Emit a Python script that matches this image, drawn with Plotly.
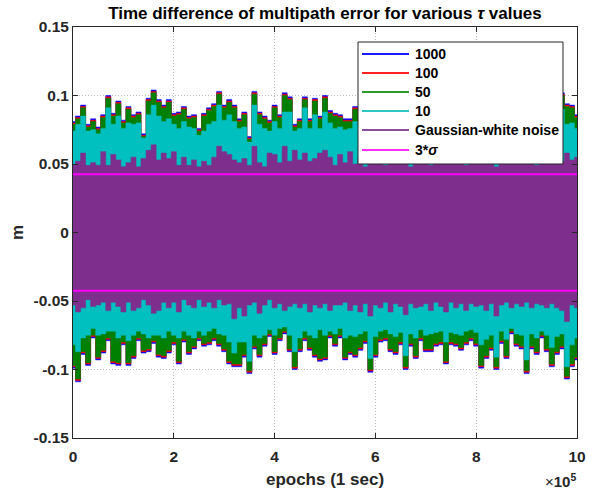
import numpy as np
import plotly.graph_objects as go

# epochs (1 sec) sampled along the record
epochs = np.linspace(0, 1e6, 101)

# ---- upper envelope (m) of each tau series ----
up_1000 = [0.081, 0.085, 0.093, 0.079, 0.083, 0.077, 0.086, 0.100, 0.087, 0.096,
           0.082, 0.092, 0.086, 0.088, 0.072, 0.098, 0.104, 0.097, 0.093, 0.097,
           0.087, 0.088, 0.092, 0.085, 0.086, 0.076, 0.087, 0.091, 0.094, 0.103,
           0.093, 0.097, 0.093, 0.083, 0.088, 0.070, 0.103, 0.088, 0.085, 0.082,
           0.093, 0.086, 0.102, 0.099, 0.079, 0.083, 0.099, 0.083, 0.098, 0.085,
           0.100, 0.089, 0.087, 0.086, 0.083, 0.083, 0.092, 0.088, 0.082, 0.095,
           0.079, 0.091, 0.086, 0.099, 0.084, 0.090, 0.077, 0.093, 0.087, 0.101,
           0.083, 0.089, 0.094, 0.080, 0.092, 0.085, 0.097, 0.082, 0.088, 0.091,
           0.078, 0.096, 0.086, 0.090, 0.083, 0.100, 0.087, 0.081, 0.094, 0.089,
           0.084, 0.098, 0.080, 0.092, 0.086, 0.095, 0.088, 0.102, 0.094, 0.093,
           0.086]
up_100 = [0.080, 0.084, 0.092, 0.078, 0.082, 0.076, 0.085, 0.099, 0.086, 0.095,
          0.081, 0.091, 0.085, 0.087, 0.071, 0.097, 0.103, 0.096, 0.092, 0.096,
          0.086, 0.087, 0.091, 0.084, 0.085, 0.075, 0.086, 0.090, 0.093, 0.102,
          0.092, 0.096, 0.092, 0.082, 0.087, 0.069, 0.102, 0.087, 0.084, 0.081,
          0.092, 0.085, 0.101, 0.098, 0.078, 0.082, 0.098, 0.082, 0.097, 0.084,
          0.099, 0.088, 0.086, 0.085, 0.082, 0.082, 0.091, 0.087, 0.081, 0.094,
          0.078, 0.090, 0.085, 0.098, 0.083, 0.089, 0.076, 0.092, 0.086, 0.100,
          0.082, 0.088, 0.093, 0.079, 0.091, 0.084, 0.096, 0.081, 0.087, 0.090,
          0.077, 0.095, 0.085, 0.089, 0.082, 0.099, 0.086, 0.080, 0.093, 0.088,
          0.083, 0.097, 0.079, 0.091, 0.085, 0.094, 0.087, 0.101, 0.093, 0.092,
          0.085]
up_50 = [0.079, 0.083, 0.091, 0.077, 0.081, 0.075, 0.084, 0.098, 0.085, 0.094,
         0.080, 0.090, 0.084, 0.086, 0.070, 0.096, 0.102, 0.095, 0.091, 0.095,
         0.085, 0.086, 0.090, 0.083, 0.084, 0.074, 0.085, 0.089, 0.092, 0.101,
         0.091, 0.095, 0.091, 0.081, 0.086, 0.068, 0.101, 0.086, 0.083, 0.080,
         0.091, 0.084, 0.100, 0.097, 0.077, 0.081, 0.097, 0.081, 0.096, 0.083,
         0.098, 0.087, 0.085, 0.084, 0.081, 0.081, 0.090, 0.086, 0.080, 0.093,
         0.077, 0.089, 0.084, 0.097, 0.082, 0.088, 0.075, 0.091, 0.085, 0.099,
         0.081, 0.087, 0.092, 0.078, 0.090, 0.083, 0.095, 0.080, 0.086, 0.089,
         0.076, 0.094, 0.084, 0.088, 0.081, 0.098, 0.085, 0.079, 0.092, 0.087,
         0.082, 0.096, 0.078, 0.090, 0.084, 0.093, 0.086, 0.100, 0.092, 0.091,
         0.084]
up_10 = [0.074, 0.079, 0.085, 0.074, 0.075, 0.072, 0.076, 0.091, 0.079, 0.085,
         0.076, 0.080, 0.079, 0.080, 0.069, 0.086, 0.093, 0.085, 0.081, 0.083,
         0.079, 0.076, 0.081, 0.077, 0.076, 0.071, 0.074, 0.079, 0.081, 0.093,
         0.082, 0.086, 0.081, 0.076, 0.077, 0.066, 0.093, 0.079, 0.076, 0.074,
         0.081, 0.076, 0.088, 0.088, 0.074, 0.076, 0.091, 0.076, 0.086, 0.076,
         0.088, 0.080, 0.076, 0.077, 0.075, 0.076, 0.081, 0.078, 0.074, 0.083,
         0.072, 0.080, 0.077, 0.088, 0.075, 0.079, 0.071, 0.082, 0.078, 0.089,
         0.075, 0.079, 0.083, 0.073, 0.081, 0.076, 0.086, 0.074, 0.078, 0.080,
         0.072, 0.085, 0.077, 0.079, 0.075, 0.088, 0.078, 0.074, 0.083, 0.079,
         0.076, 0.087, 0.073, 0.081, 0.077, 0.084, 0.078, 0.090, 0.079, 0.080,
         0.076]

# ---- lower envelope (m) of each tau series ----
lo_1000 = [-0.099, -0.109, -0.089, -0.097, -0.077, -0.093, -0.088, -0.079, -0.096, -0.097,
           -0.082, -0.097, -0.092, -0.079, -0.088, -0.087, -0.081, -0.091, -0.092, -0.088,
           -0.082, -0.096, -0.080, -0.089, -0.085, -0.079, -0.083, -0.082, -0.079, -0.083,
           -0.087, -0.096, -0.098, -0.098, -0.091, -0.103, -0.085, -0.091, -0.083, -0.076,
           -0.089, -0.079, -0.074, -0.087, -0.100, -0.087, -0.079, -0.086, -0.091, -0.094,
           -0.093, -0.077, -0.083, -0.077, -0.093, -0.089, -0.091, -0.086, -0.081, -0.102,
           -0.091, -0.080, -0.079, -0.087, -0.089, -0.082, -0.100, -0.083, -0.092, -0.079,
           -0.087, -0.087, -0.083, -0.082, -0.096, -0.082, -0.083, -0.086, -0.082, -0.079,
           -0.083, -0.099, -0.092, -0.086, -0.100, -0.081, -0.092, -0.074, -0.083, -0.085,
           -0.103, -0.085, -0.089, -0.077, -0.087, -0.098, -0.089, -0.085, -0.107, -0.098,
           -0.093]
lo_100 = [-0.098, -0.108, -0.088, -0.096, -0.076, -0.092, -0.087, -0.078, -0.095, -0.096,
          -0.081, -0.096, -0.091, -0.078, -0.087, -0.086, -0.080, -0.090, -0.091, -0.087,
          -0.081, -0.095, -0.079, -0.088, -0.084, -0.078, -0.082, -0.081, -0.078, -0.082,
          -0.086, -0.095, -0.097, -0.097, -0.090, -0.102, -0.084, -0.090, -0.082, -0.075,
          -0.088, -0.078, -0.073, -0.086, -0.099, -0.086, -0.078, -0.085, -0.090, -0.093,
          -0.092, -0.076, -0.082, -0.076, -0.092, -0.088, -0.090, -0.085, -0.080, -0.101,
          -0.090, -0.079, -0.078, -0.086, -0.088, -0.081, -0.099, -0.082, -0.091, -0.078,
          -0.086, -0.086, -0.082, -0.081, -0.095, -0.081, -0.082, -0.085, -0.081, -0.078,
          -0.082, -0.098, -0.091, -0.085, -0.099, -0.080, -0.091, -0.073, -0.082, -0.084,
          -0.102, -0.084, -0.088, -0.076, -0.086, -0.097, -0.088, -0.084, -0.106, -0.097,
          -0.092]
lo_50 = [-0.097, -0.107, -0.087, -0.095, -0.075, -0.091, -0.086, -0.077, -0.094, -0.095,
         -0.080, -0.095, -0.090, -0.077, -0.086, -0.085, -0.079, -0.089, -0.090, -0.086,
         -0.080, -0.094, -0.078, -0.087, -0.083, -0.077, -0.081, -0.080, -0.077, -0.081,
         -0.085, -0.094, -0.096, -0.096, -0.089, -0.101, -0.083, -0.089, -0.081, -0.074,
         -0.087, -0.077, -0.072, -0.085, -0.098, -0.085, -0.077, -0.084, -0.089, -0.092,
         -0.091, -0.075, -0.081, -0.075, -0.091, -0.087, -0.089, -0.084, -0.079, -0.100,
         -0.089, -0.078, -0.077, -0.085, -0.087, -0.080, -0.098, -0.081, -0.090, -0.077,
         -0.085, -0.085, -0.081, -0.080, -0.094, -0.080, -0.081, -0.084, -0.080, -0.077,
         -0.081, -0.097, -0.090, -0.084, -0.098, -0.079, -0.090, -0.072, -0.081, -0.083,
         -0.101, -0.083, -0.087, -0.075, -0.085, -0.096, -0.087, -0.083, -0.105, -0.096,
         -0.091]
lo_10 = [-0.082, -0.087, -0.077, -0.075, -0.070, -0.075, -0.074, -0.072, -0.072, -0.077,
         -0.075, -0.079, -0.075, -0.072, -0.074, -0.077, -0.075, -0.075, -0.077, -0.072,
         -0.075, -0.077, -0.072, -0.075, -0.077, -0.072, -0.075, -0.072, -0.070, -0.074,
         -0.075, -0.080, -0.088, -0.080, -0.080, -0.094, -0.075, -0.077, -0.075, -0.071,
         -0.075, -0.070, -0.069, -0.075, -0.087, -0.077, -0.072, -0.075, -0.077, -0.071,
         -0.075, -0.072, -0.074, -0.070, -0.077, -0.075, -0.076, -0.074, -0.072, -0.092,
         -0.076, -0.072, -0.071, -0.074, -0.076, -0.073, -0.090, -0.074, -0.077, -0.071,
         -0.075, -0.074, -0.073, -0.072, -0.080, -0.073, -0.074, -0.075, -0.072, -0.071,
         -0.073, -0.082, -0.078, -0.075, -0.091, -0.072, -0.078, -0.070, -0.074, -0.075,
         -0.093, -0.074, -0.077, -0.072, -0.075, -0.084, -0.076, -0.074, -0.098, -0.082,
         -0.077]

# ---- Gaussian white noise envelope (m) ----
noise_up = [0.049, 0.052, 0.058, 0.049, 0.051, 0.049, 0.059, 0.049, 0.057, 0.053,
            0.048, 0.051, 0.055, 0.048, 0.054, 0.060, 0.064, 0.053, 0.058, 0.054,
            0.059, 0.049, 0.055, 0.049, 0.053, 0.048, 0.052, 0.049, 0.055, 0.063,
            0.059, 0.057, 0.053, 0.051, 0.054, 0.049, 0.063, 0.051, 0.048, 0.058,
            0.057, 0.051, 0.063, 0.052, 0.060, 0.053, 0.058, 0.052, 0.054, 0.058,
            0.060, 0.055, 0.049, 0.057, 0.051, 0.059, 0.050, 0.054, 0.048, 0.056,
            0.052, 0.060, 0.049, 0.053, 0.057, 0.050, 0.055, 0.048, 0.058, 0.052,
            0.054, 0.049, 0.056, 0.051, 0.059, 0.050, 0.053, 0.057, 0.049, 0.055,
            0.052, 0.061, 0.050, 0.054, 0.048, 0.056, 0.053, 0.058, 0.050, 0.055,
            0.052, 0.057, 0.049, 0.054, 0.060, 0.051, 0.056, 0.052, 0.058, 0.053,
            0.055]
noise_lo = [-0.053, -0.058, -0.055, -0.049, -0.054, -0.053, -0.051, -0.057, -0.051, -0.054,
            -0.058, -0.051, -0.057, -0.055, -0.049, -0.053, -0.059, -0.057, -0.051, -0.055,
            -0.051, -0.058, -0.049, -0.053, -0.055, -0.049, -0.054, -0.051, -0.055, -0.049,
            -0.053, -0.052, -0.063, -0.055, -0.061, -0.053, -0.051, -0.059, -0.053, -0.049,
            -0.055, -0.052, -0.057, -0.054, -0.052, -0.055, -0.052, -0.058, -0.053, -0.055,
            -0.052, -0.057, -0.053, -0.053, -0.051, -0.057, -0.053, -0.058, -0.052, -0.061,
            -0.053, -0.055, -0.051, -0.058, -0.052, -0.054, -0.060, -0.052, -0.055, -0.054,
            -0.052, -0.057, -0.051, -0.054, -0.058, -0.051, -0.055, -0.052, -0.057, -0.052,
            -0.054, -0.053, -0.057, -0.052, -0.061, -0.053, -0.051, -0.055, -0.052, -0.054,
            -0.051, -0.055, -0.052, -0.053, -0.055, -0.052, -0.055, -0.057, -0.065, -0.053,
            -0.055]

sigma3 = 0.0425  # 3*sigma bound (m)

series_names = ["1000", "100", "50", "10", "Gaussian-white noise"]
series_colors = ["#0000FF", "#FF0000", "#008000", "#00BFBF", "#7E2F8E"]
uppers = [up_1000, up_100, up_50, up_10, noise_up]
lowers = [lo_1000, lo_100, lo_50, lo_10, noise_lo]

xtick_vals = [0, 2e5, 4e5, 6e5, 8e5, 1e6]
xtick_text = ["0", "2", "4", "6", "8", "10"]
ytick_vals = [-0.15, -0.1, -0.05, 0, 0.05, 0.1, 0.15]
ytick_text = ["-0.15", "-0.1", "-0.05", "0", "0.05", "0.1", "0.15"]

FONT = "Liberation Sans, Arial, Helvetica, sans-serif"
AX = "#262626"

fig = go.Figure()
xs = list(epochs)
for name, col, up, lo in zip(series_names, series_colors, uppers, lowers):
    # lower envelope, then upper envelope filled down to it (one solid band)
    fig.add_trace(go.Scatter(
        x=xs, y=list(lo), mode="lines", line_shape="hvh",
        line=dict(color=col, width=0.5),
        name=name, legendgroup=name, showlegend=False, hoverinfo="skip"))
    fig.add_trace(go.Scatter(
        x=xs, y=list(up), mode="lines", line_shape="hvh",
        fill="tonexty", fillcolor=col,
        line=dict(color=col, width=0.5),
        name=name, legendgroup=name, showlegend=False, hoverinfo="skip"))

fig.add_trace(go.Scatter(
    x=[epochs[0], epochs[-1], None, epochs[0], epochs[-1]],
    y=[sigma3, sigma3, None, -sigma3, -sigma3],
    mode="lines", line=dict(color="#FF00FF", width=2),
    name="3*σ", showlegend=False, hoverinfo="skip"))

# ---- legend drawn MATLAB-style (white box, line samples, bold labels) ----
legend_names = series_names + ["3*<i>σ</i>"]
legend_colors = ["#1a1aff", "#ff2020", "#2e9a2e", "#2ec8c8", "#8a4f9a", "#ff30ff"]
lx0, lx1, ly_top, ly_bot = 0.5655, 0.9722, 0.9635, 0.6667
row_y = [0.9343, 0.8881, 0.8418, 0.7956, 0.7494, 0.7007]
shapes = [dict(type="rect", xref="paper", yref="paper", x0=lx0, x1=lx1,
               y0=ly_bot, y1=ly_top, fillcolor="white",
               line=dict(color=AX, width=1), layer="above")]
annotations = []
for name, col, ry in zip(legend_names, legend_colors, row_y):
    shapes.append(dict(type="line", xref="paper", yref="paper",
                       x0=0.5734, x1=0.6667, y0=ry, y1=ry,
                       line=dict(color=col, width=2), layer="above"))
    annotations.append(dict(text=name, xref="paper", yref="paper",
                            x=0.6746, y=ry, xanchor="left", yanchor="middle",
                            showarrow=False,
                            font=dict(family=FONT, size=14, color="black",
                                      weight="bold")))

annotations.append(dict(text="×<b>10<sup>5</sup></b>", xref="paper", yref="paper",
                        x=1.002, y=-0.104, xanchor="right", yanchor="middle",
                        showarrow=False,
                        font=dict(family=FONT, size=15, color=AX)))

axis_common = dict(
    showline=True, linecolor=AX, linewidth=1, mirror="ticks",
    ticks="inside", ticklen=5, tickcolor=AX, tickwidth=1,
    showgrid=True, gridcolor="#BDBDBD", griddash="1px,2px", gridwidth=1,
    zeroline=False, automargin=False,
    tickfont=dict(family=FONT, size=15.5, color=AX, weight="bold"),
)

fig.update_layout(
    width=593, height=494,
    margin=dict(l=73, r=16, t=27, b=56),
    paper_bgcolor="white", plot_bgcolor="white",
    title=dict(text="Time difference of multipath error for various <i>τ</i> values",
               x=0.548, xanchor="center", y=0.9737, yanchor="middle",
               font=dict(family=FONT, size=17, color="black", weight="bold")),
    xaxis=dict(range=[0, 1e6], tickvals=xtick_vals, ticktext=xtick_text,
               ticklabelstandoff=4,
               title=dict(text="epochs (1 sec)", standoff=9,
                          font=dict(family=FONT, size=17, color=AX, weight="bold")),
               **axis_common),
    yaxis=dict(range=[-0.15, 0.15], tickvals=ytick_vals, ticktext=ytick_text,
               title=dict(text="m", standoff=5,
                          font=dict(family=FONT, size=17, color=AX, weight="bold")),
               **axis_common),
    showlegend=False,
    shapes=shapes,
    annotations=annotations,
)

fig.write_html("out.html")
